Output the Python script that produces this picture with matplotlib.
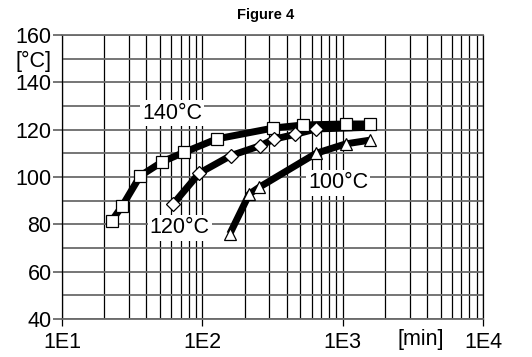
import numpy as np
import matplotlib
matplotlib.use("Agg")
import matplotlib.pyplot as plt
from matplotlib.ticker import LogLocator, MultipleLocator

plt.rcParams["font.family"] = ["Liberation Sans", "DejaVu Sans"]

# curing curves: time [min] vs temperature [°C]
t_140 = [22.6, 26.9, 36, 52, 74, 127, 321, 525, 1052, 1577]
temp_140 = [81.5, 87.8, 100.4, 106.5, 110.4, 116.1, 120.7, 122.0, 122.4, 122.4]

t_120 = [62, 95, 159, 258, 324, 458, 646, 1577]
temp_120 = [88.6, 101.6, 109.0, 113.2, 116.0, 118.0, 120.3, 121.0]

t_100 = [157, 216, 255, 646, 1052, 1577]
temp_100 = [76.0, 92.8, 95.7, 110.0, 114.0, 115.6]

# (x, y, marker, label, label position, marker size, which points show a marker)
series = [
    (t_140, temp_140, "s", "140°C", (61, 127), 8.5, None),
    (t_120, temp_120, "D", "120°C", (69, 78.5), 7.5, list(range(len(t_120) - 1))),
    (t_100, temp_100, "^", "100°C", (927, 97.5), 9, None),
]

fig = plt.figure(figsize=(5.32, 3.57), dpi=100)
ax = fig.add_axes([0.1165, 0.1064, 0.7915, 0.7956])

ax.set_xscale("log")
ax.set_xlim(10, 1e4)
ax.set_ylim(40, 160)

# grid: thin black verticals, grey horizontals
ax.xaxis.set_major_locator(LogLocator(base=10, numticks=10))
ax.xaxis.set_minor_locator(LogLocator(base=10, subs=np.arange(2, 10), numticks=50))
ax.yaxis.set_major_locator(MultipleLocator(20))
ax.yaxis.set_minor_locator(MultipleLocator(10))
ax.grid(True, which="both", axis="x", color="black", lw=0.9)
ax.grid(True, which="both", axis="y", color="#6a6a6a", lw=1.3)
ax.set_axisbelow(True)

for side in ["left", "right"]:
    ax.spines[side].set_color("black")
    ax.spines[side].set_linewidth(0.9)
for side in ["top", "bottom"]:
    ax.spines[side].set_color("#6a6a6a")
    ax.spines[side].set_linewidth(1.3)

ax.set_xticks([10, 100, 1000, 10000])
ax.set_xticklabels(["1E1", "1E2", "1E3", "1E4"])
ax.set_yticks([40, 60, 80, 100, 120, 140, 160])
ax.tick_params(axis="both", which="major", labelsize=15.5, direction="out")
ax.tick_params(axis="x", which="major", length=5, width=0.9, color="black", pad=4)
ax.tick_params(axis="y", which="major", length=6.5, width=1.3, color="#6a6a6a", pad=1)
ax.tick_params(which="minor", length=0)

for t, temp, mk, label, pos, ms, every in series:
    ax.plot(t, temp, color="black", lw=5, solid_capstyle="butt",
            solid_joinstyle="round", zorder=3)
    ax.plot(t, temp, linestyle="none", marker=mk, ms=ms, markevery=every,
            mfc="white", mec="black", mew=0.9, zorder=4)
    ax.text(pos[0], pos[1], label, fontsize=15.5, ha="center", va="center",
            zorder=5, bbox=dict(facecolor="white", edgecolor="none", pad=1.5))

fig.text(0.5, 0.957, "Figure 4", fontsize=10.5, fontweight="bold", ha="center", va="center")
fig.text(0.097, 0.827, "[°C]", fontsize=15.5, ha="right", va="center")
fig.text(0.79, 0.048, "[min]", fontsize=15.5, ha="center", va="center")

fig.savefig("out.png", dpi=100)
